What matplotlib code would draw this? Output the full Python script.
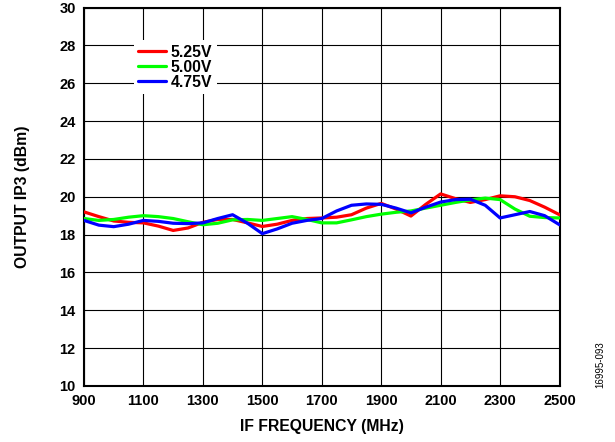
import matplotlib
matplotlib.use('Agg')
import matplotlib.pyplot as plt

# IF frequency (MHz), 50 MHz steps
freq = [900, 950, 1000, 1050, 1100, 1150, 1200, 1250, 1300, 1350, 1400,
        1450, 1500, 1550, 1600, 1650, 1700, 1750, 1800, 1850, 1900, 1950,
        2000, 2050, 2100, 2150, 2200, 2250, 2300, 2350, 2400, 2450, 2500]

# output IP3 (dBm) per supply voltage
oip3_525 = [19.20, 18.95, 18.72, 18.65, 18.62, 18.45, 18.22, 18.35, 18.65, 18.80, 18.80,
            18.62, 18.43, 18.55, 18.75, 18.85, 18.88, 18.92, 19.05, 19.40, 19.65, 19.35,
            18.98, 19.60, 20.15, 19.90, 19.70, 19.85, 20.05, 20.00, 19.80, 19.45, 19.05]
oip3_500 = [18.85, 18.75, 18.80, 18.92, 19.00, 18.95, 18.85, 18.68, 18.52, 18.60, 18.78,
            18.80, 18.75, 18.85, 18.95, 18.80, 18.62, 18.62, 18.78, 18.95, 19.08, 19.18,
            19.25, 19.40, 19.55, 19.70, 19.83, 19.93, 19.85, 19.35, 18.97, 18.90, 18.88]
oip3_475 = [18.75, 18.50, 18.42, 18.55, 18.75, 18.70, 18.60, 18.58, 18.62, 18.85, 19.05,
            18.60, 18.05, 18.30, 18.60, 18.75, 18.85, 19.25, 19.55, 19.62, 19.60, 19.40,
            19.15, 19.45, 19.72, 19.85, 19.87, 19.55, 18.88, 19.05, 19.22, 19.00, 18.52]

series = [('5.25V', oip3_525, '#ff0000'),
          ('5.00V', oip3_500, '#00ff00'),
          ('4.75V', oip3_475, '#0000ff')]

xticks = list(range(900, 2501, 200))
yticks = list(range(10, 31, 2))

plt.rcParams['font.family'] = ['Liberation Sans', 'DejaVu Sans']

fig = plt.figure(figsize=(6.15, 4.42), dpi=100)
ax = fig.add_axes([0.1366, 0.1267, 0.7732, 0.8563])

for label, vals, col in series:
    ax.plot(freq, vals, color=col, lw=2.3, label=label, solid_capstyle='round',
            solid_joinstyle='round', zorder=3)

ax.set_xlim(900, 2500)
ax.set_ylim(10, 30)
ax.set_xticks(xticks)
ax.set_yticks(yticks)
ax.tick_params(length=0, labelsize=10.5, pad=6)
for t in ax.get_xticklabels() + ax.get_yticklabels():
    t.set_fontweight('bold')
ax.grid(True, color='black', lw=0.8)
for sp in ax.spines.values():
    sp.set_linewidth(1.5)

ax.set_xlabel('IF FREQUENCY (MHz)', fontsize=11.3, fontweight='bold', labelpad=8)
ax.set_ylabel('OUTPUT IP3 (dBm)', fontsize=11.3, fontweight='bold', va='center')
ax.yaxis.set_label_coords(-0.129, 0.5)

leg = ax.legend(loc='upper left', bbox_to_anchor=(0.088, 0.935), frameon=True,
                fancybox=False, edgecolor='none', framealpha=1, handlelength=1.75,
                handletextpad=0.32, labelspacing=0.0, borderpad=0.3,
                prop={'weight': 'bold', 'size': 11.3})
leg.set_zorder(5)

fig.text(0.976, 0.174, '16995-093', rotation=90, fontsize=7, ha='center', va='center')

fig.savefig('out.png', dpi=100)
